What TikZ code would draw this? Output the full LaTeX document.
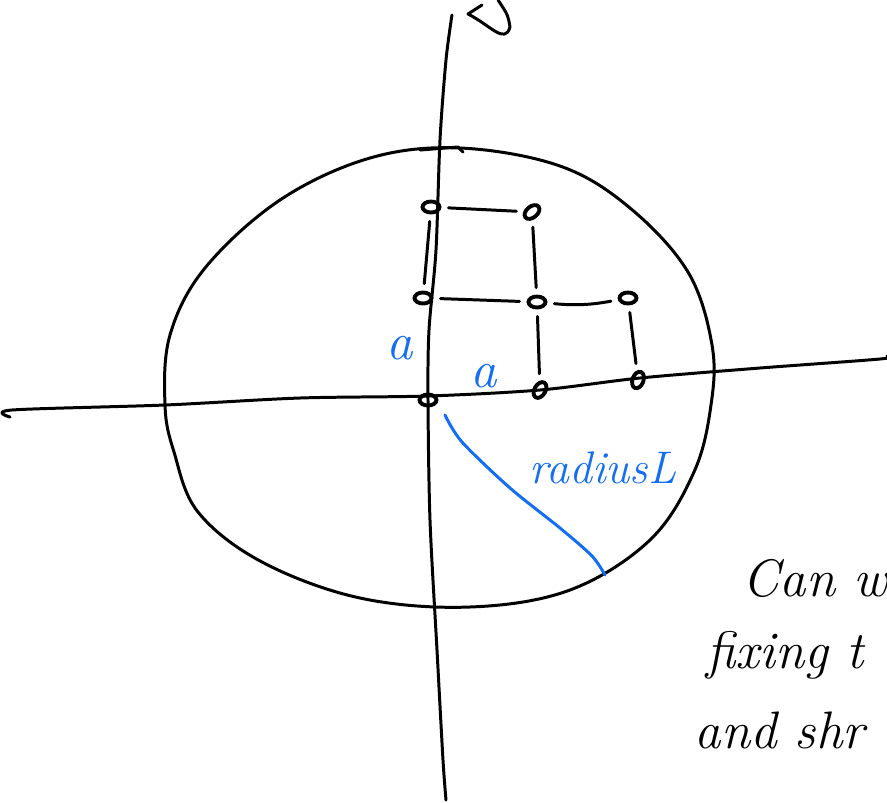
\documentclass[tikz,border=0pt]{standalone}
\usepackage{xcolor}
\usepackage{tikz}
\usetikzlibrary{
    arrows.meta,
    positioning,
    shapes.geometric,
    calc
}

\definecolor{penblue}{RGB}{20,110,245}

\begin{document}
\begin{tikzpicture}[
        x=0.01cm, y=-0.01cm,
        pen/.style={
            line width=0.85pt,
            line cap=round,
            line join=round
        },
        site/.style={
            ellipse,
            draw,
            line width=1.1pt,
            inner sep=0pt,
            minimum width=0.17cm,
            minimum height=0.11cm
        },
        bond/.style={
            pen,
            shorten <=2pt,
            shorten >=2pt
        },
        bluelabel/.style={
            text=penblue,
            font=\itshape\fontsize{15}{18}\selectfont
        },
        note/.style={
            anchor=base west,
            inner sep=0pt,
            font=\itshape\fontsize{15}{18}\selectfont
        }
    ]

    \useasboundingbox (0,0) rectangle (887,802);

    % axes
    \draw[pen] plot[smooth] coordinates {(452,15) (446,60) (440,140) (436,250) (429,330) (428,400) (430,520) (437,650) (443,760) (446,800)};
    \draw[pen] (482,5) -- (468,14) .. controls (490,25) and (505,45) .. (510,27) .. controls (508,15) .. (498,0);
    \draw[pen] plot[smooth] coordinates {(10,417) (12,410) (165,405) (300,398) (428,396) (540,390) (640,378) (760,368) (880,359) (887,356)};

    % boundary
    \draw[pen] plot[smooth cycle, tension=0.6] coordinates {(165,405) (170,335) (205,268) (280,200) (370,158) (460,148) (560,166) (630,208) (688,272) (712,345) (711,405) (694,472) (650,540) (570,590) (470,607) (360,598) (262,562) (198,512) (174,452)};
    \draw[pen] (420,150) -- (458,147) -- (463,152);

    % lattice sites
    \node[site] (s00) at (428,400) {};
    \node[site, rotate=60] (s10) at (540,390) {};
    \node[site, rotate=70] (s20) at (638,380) {};
    \node[site] (s01) at (423,298) {};
    \node[site] (s11) at (537,302) {};
    \node[site] (s21) at (628,298) {};
    \node[site] (s02) at (431,207) {};
    \node[site, rotate=40] (s12) at (532,212) {};

    % lattice bonds
    \draw[bond] (s02) -- (s12);
    \draw[bond] (s02) -- (s01);
    \draw[bond] (s12) -- (s11);
    \draw[bond] (s01) -- (s11);
    \draw[bond] (s11) to[bend right=8] (s21);
    \draw[bond] (s11) -- (s10);
    \draw[bond] (s21) -- (s20);

    % labels
    \node[bluelabel] (avert) at (400,348) {a};
    \node[bluelabel] (ahoriz) at (484,376) {a};
    \coordinate (rstart) at (445,415);
    \coordinate (rend) at (605,575);
    \draw[pen, penblue] plot[smooth] coordinates {(rstart) (462,442) (510,488) (560,528) (592,556) (rend)};
    \node[bluelabel, font=\itshape\fontsize{13}{16}\selectfont] (radius) at (603,468) {radiusL};

    % side note
    \node[note] (line1) at (742,596) {Can w};
    \node[note] (line2) at (706,668) {fixing t};
    \node[note] (line3) at (694,748) {and shr};

\end{tikzpicture}
\end{document}
